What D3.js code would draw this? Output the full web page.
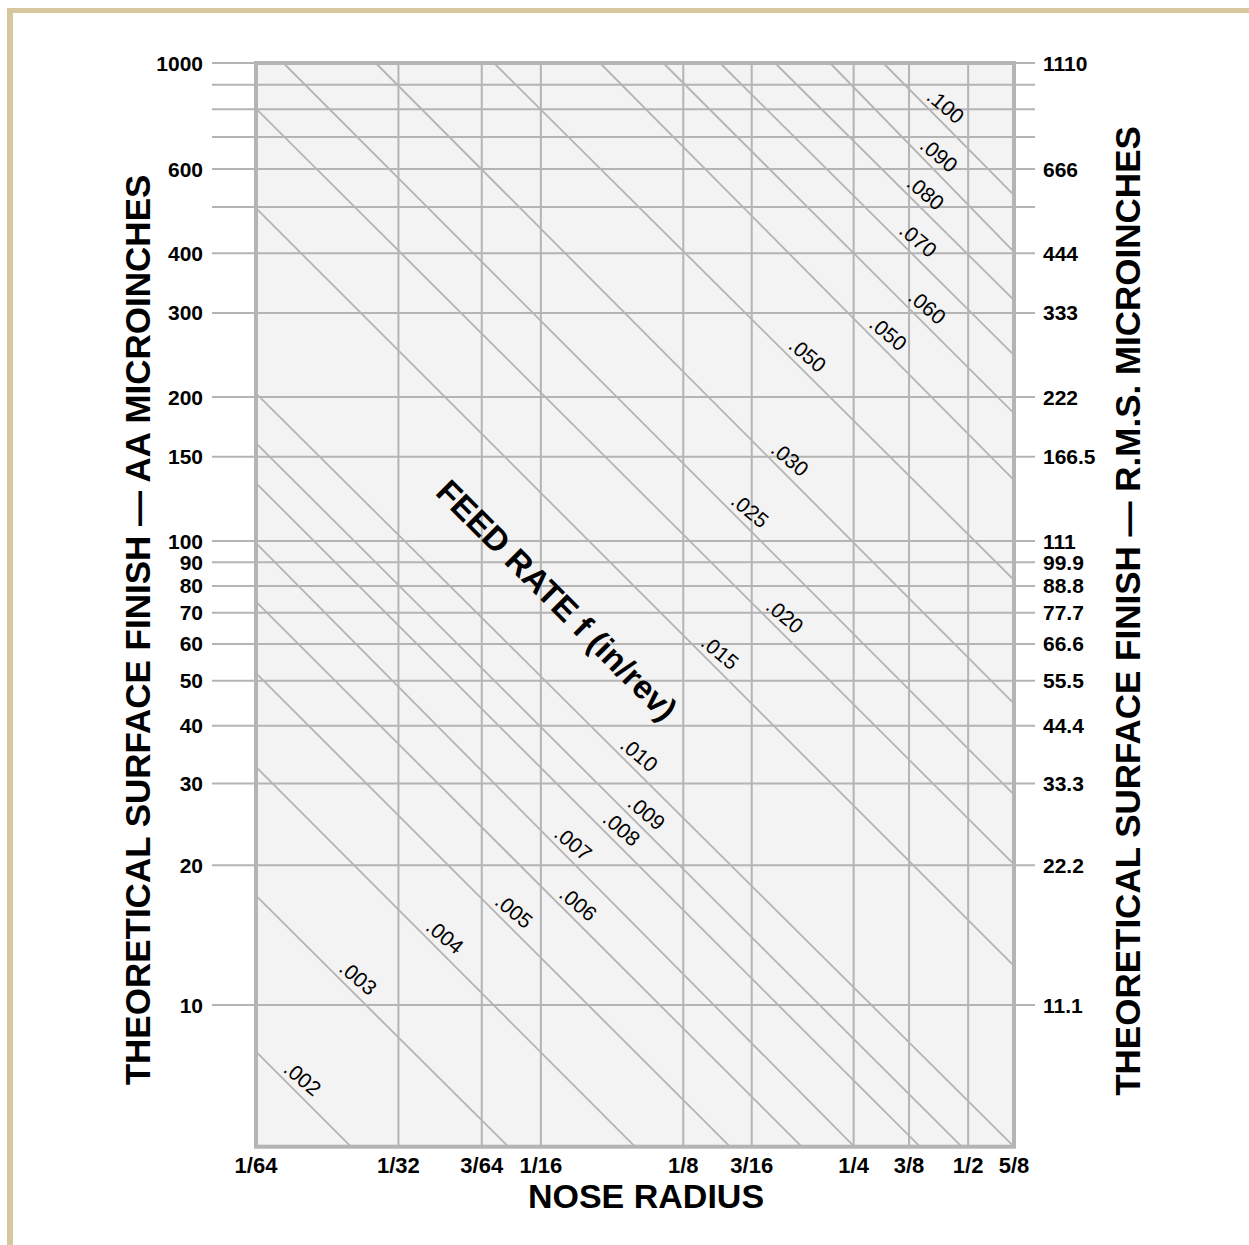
<!DOCTYPE html>
<html>
<head>
<meta charset="utf-8">
<script src="https://cdn.jsdelivr.net/npm/d3@7"></script>
<style>
  html, body { margin: 0; padding: 0; background: #ffffff; }
  svg { display: block; }
  text { font-family: "Liberation Sans", Arial, Helvetica, sans-serif; fill: #000; }
</style>
</head>
<body>
<svg id="chart" width="1249" height="1245"></svg>
<script>
// ---------------- DATA ----------------
// Nose radius (inches) — tick values as they sit in the picture, with their labels
const xTickValues = [1/64, 1/32, 3/64, 1/16, 1/8, 0.1744, 0.2864, 3/8, 1/2, 5/8];
const xTickLabels = ["1/64", "1/32", "3/64", "1/16", "1/8", "3/16", "1/4", "3/8", "1/2", "5/8"];
const xMin = 1/64, xMax = 5/8;

// Surface finish (AA microinches)
const yGridValues = [10, 20, 30, 40, 50, 60, 70, 80, 90, 100, 150, 200, 300, 400, 500, 600, 700, 800, 900, 1000];
const yTickValues = [10, 20, 30, 40, 50, 60, 70, 80, 90, 100, 150, 200, 300, 400, 600, 1000];
const yTickLabelsLeft  = ["10", "20", "30", "40", "50", "60", "70", "80", "90", "100", "150", "200", "300", "400", "600", "1000"];
const yTickLabelsRight = ["11.1", "22.2", "33.3", "44.4", "55.5", "66.6", "77.7", "88.8", "99.9", "111", "166.5", "222", "333", "444", "666", "1110"];
const yMin = 4.95, yMax = 1000;

// Feed-rate lines (in/rev): start and end points [nose radius, AA microinches]
const feedLabels = [".002", ".003", ".004", ".005", ".006", ".007", ".008", ".009", ".010",
                    ".015", ".020", ".025", ".030", ".050", ".050", ".060", ".070", ".080", ".090", ".100"];
const feedStart = [
  [1/64, 7.93], [1/64, 17.2], [1/64, 32.6], [1/64, 51.9], [1/64, 74.0], [1/64, 99.0],
  [1/64, 132.2], [1/64, 160.3], [1/64, 203.6], [1/64, 497], [1/64, 803],
  [0.01785, 1000], [0.02797, 1000], [0.04975, 1000], [0.08334, 1000], [0.1134, 1000],
  [0.1495, 1000], [0.1953, 1000], [0.2553, 1000], [0.3308, 1000]
];
const feedEnd = [
  [0.02481, 4.95], [0.05333, 4.95], [0.09883, 4.95], [0.1569, 4.95], [0.2224, 4.95], [0.2873, 4.95],
  [0.3955, 4.95], [0.4845, 4.95], [5/8, 4.95], [5/8, 12.14], [5/8, 20.1],
  [5/8, 28.4], [5/8, 44.6], [5/8, 82.4], [5/8, 134.1], [5/8, 184.9],
  [5/8, 244.8], [5/8, 319.1], [5/8, 402.6], [5/8, 528.9]
];
// Nose radius at which each feed label sits
const feedLabelR = [0.01961, 0.02571, 0.0392, 0.05484, 0.075, 0.0732, 0.0926, 0.1046, 0.1009,
                    0.1495, 0.205, 0.173, 0.2101, 0.229, 0.339, 0.4098, 0.3922, 0.4067, 0.4339, 0.4483];

const feedTitle = "FEED RATE f (in/rev)";
const feedTitleAt = [0.0676, 74.6];
const xTitle = "NOSE RADIUS";
const yTitleLeft = "THEORETICAL SURFACE FINISH — AA MICROINCHES";
const yTitleRight = "THEORETICAL SURFACE FINISH — R.M.S. MICROINCHES";

// ---------------- DRAW ----------------
const svg = d3.select("#chart");
const GRID = "#b4b4b4";

const x = d3.scaleLog().domain([xMin, xMax]).range([256, 1014]);
const y = d3.scaleLog().domain([10, 100, 1000]).range([1005, 541, 63]);

const X0 = x(xMin), X1 = x(xMax), Y0 = y(yMax), Y1 = y(yMin);

// outer frame (tan)
svg.append("rect").attr("x", 7).attr("y", 8).attr("width", 6).attr("height", 1245 - 8).attr("fill", "#d6c79e");
svg.append("rect").attr("x", 7).attr("y", 8).attr("width", 1249 - 7).attr("height", 5).attr("fill", "#d6c79e");

// plot background
svg.append("rect").attr("x", X0).attr("y", Y0).attr("width", X1 - X0).attr("height", Y1 - Y0).attr("fill", "#f3f3f3");

// horizontal grid lines (extend as ticks on both sides)
svg.append("g").selectAll("line").data(yGridValues).join("line")
  .attr("x1", X0 - 44).attr("x2", X1 + 21)
  .attr("y1", d => y(d)).attr("y2", d => y(d))
  .attr("stroke", GRID).attr("stroke-width", 2);

// vertical grid lines
svg.append("g").selectAll("line").data(xTickValues).join("line")
  .attr("x1", d => x(d)).attr("x2", d => x(d))
  .attr("y1", Y0).attr("y2", Y1)
  .attr("stroke", GRID).attr("stroke-width", 2);

// feed lines
const feedIdx = d3.range(feedLabels.length);
svg.append("g").selectAll("line").data(feedIdx).join("line")
  .attr("x1", i => x(feedStart[i][0])).attr("y1", i => y(feedStart[i][1]))
  .attr("x2", i => x(feedEnd[i][0])).attr("y2", i => y(feedEnd[i][1]))
  .attr("stroke", GRID).attr("stroke-width", 1.8);

// plot border
svg.append("rect").attr("x", X0).attr("y", Y0).attr("width", X1 - X0).attr("height", Y1 - Y0)
  .attr("fill", "none").attr("stroke", GRID).attr("stroke-width", 4);

// feed labels
svg.append("g").selectAll("text").data(feedIdx).join("text")
  .attr("transform", i => {
    const ax = x(feedStart[i][0]), ay = y(feedStart[i][1]);
    const bx = x(feedEnd[i][0]), by = y(feedEnd[i][1]);
    const px = x(feedLabelR[i]);
    const t = (px - ax) / (bx - ax);
    const py = ay + t * (by - ay) - 20;
    return `translate(${px},${py}) rotate(40)`;
  })
  .attr("text-anchor", "middle").attr("dominant-baseline", "central")
  .attr("font-size", 21)
  .text(i => feedLabels[i]);

// feed title
svg.append("text")
  .attr("transform", `translate(${x(feedTitleAt[0])},${y(feedTitleAt[1])}) rotate(45)`)
  .attr("text-anchor", "middle").attr("dominant-baseline", "central")
  .attr("font-size", 33).attr("font-weight", "bold")
  .text(feedTitle);

// left tick labels
svg.append("g").selectAll("text").data(yTickValues).join("text")
  .attr("x", X0 - 53).attr("y", d => y(d))
  .attr("text-anchor", "end").attr("dominant-baseline", "central")
  .attr("font-size", 21).attr("font-weight", "bold")
  .text((d, i) => yTickLabelsLeft[i]);

// right tick labels
svg.append("g").selectAll("text").data(yTickValues).join("text")
  .attr("x", X1 + 29).attr("y", d => y(d))
  .attr("text-anchor", "start").attr("dominant-baseline", "central")
  .attr("font-size", 21).attr("font-weight", "bold")
  .text((d, i) => yTickLabelsRight[i]);

// bottom tick labels
svg.append("g").selectAll("text").data(xTickValues).join("text")
  .attr("x", d => x(d)).attr("y", Y1 + 19)
  .attr("text-anchor", "middle").attr("dominant-baseline", "central")
  .attr("font-size", 22).attr("font-weight", "bold")
  .text((d, i) => xTickLabels[i]);

// axis titles
svg.append("text").attr("x", 646).attr("y", Y1 + 49)
  .attr("text-anchor", "middle").attr("dominant-baseline", "central")
  .attr("font-size", 34).attr("font-weight", "bold").text(xTitle);

svg.append("text").attr("transform", "translate(137,630) rotate(-90)")
  .attr("text-anchor", "middle").attr("dominant-baseline", "central")
  .attr("font-size", 35).attr("font-weight", "bold").text(yTitleLeft);

svg.append("text").attr("transform", "translate(1127,611) rotate(-90)")
  .attr("text-anchor", "middle").attr("dominant-baseline", "central")
  .attr("font-size", 35).attr("font-weight", "bold").text(yTitleRight);
</script>
</body>
</html>
